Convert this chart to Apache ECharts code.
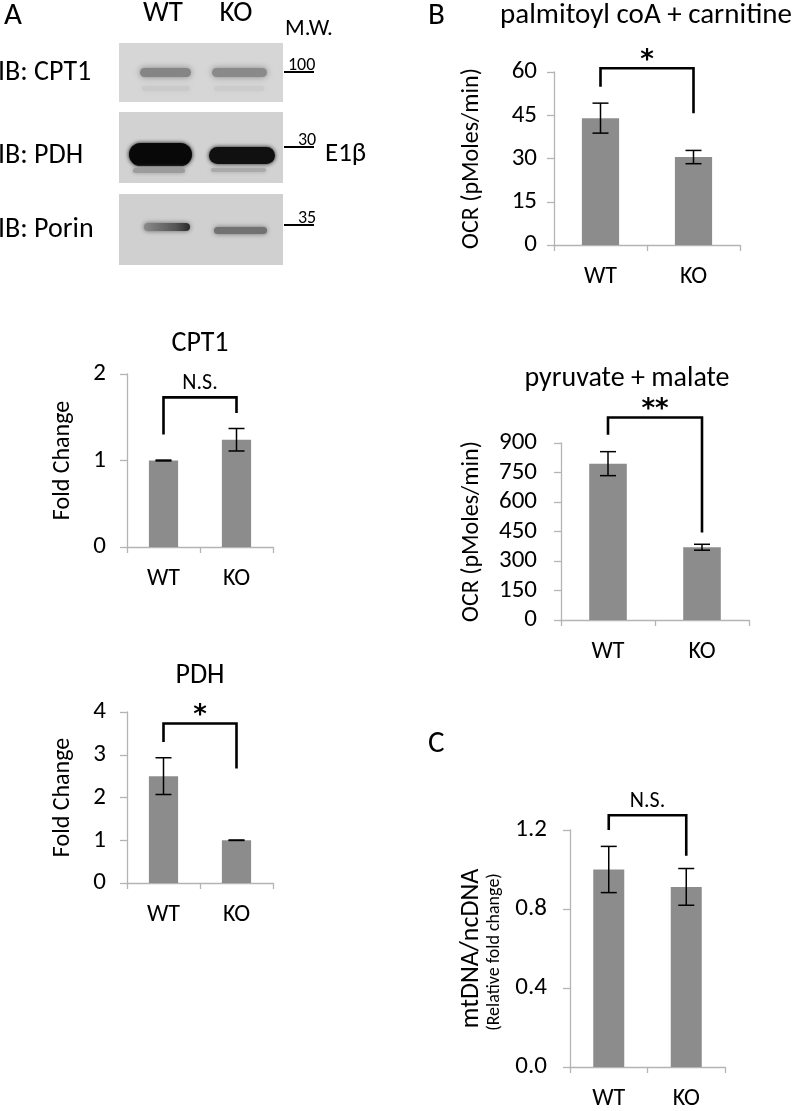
<!DOCTYPE html>
<html>
<head>
<meta charset="utf-8">
<script src="https://cdn.jsdelivr.net/npm/echarts@6/dist/echarts.min.js"></script>
<style>
  html, body { margin: 0; padding: 0; background: #fff; }
  #main { width: 796px; height: 1111px; }
</style>
</head>
<body>
<div id="main"></div>
<script>
// groups
var cats = ['WT', 'KO'];

// A: densitometry (fold change)
var cpt1Vals = [1.0, 1.24];
var cpt1Err = [0.005, 0.13];
var pdhVals = [2.5, 1.0];
var pdhErr = [0.43, 0.005];

// B: OCR (pMoles/min)
var palmVals = [44, 30.5];
var palmErr = [5.2, 2.3];
var pyrVals = [795, 370];
var pyrErr = [61, 15];

// C: mtDNA/ncDNA
var mtVals = [1.0, 0.912];
var mtErr = [0.117, 0.093];

// brackets: [top, WT leg end, KO leg end] in axis units + label
var cpt1Brk = [1.73, 1.30, 1.55], cpt1Sig = 'N.S.';
var pdhBrk = [3.73, 3.30, 2.68], pdhSig = '*';
var palmBrk = [61.3, 54.9, 45.7], palmSig = '*';
var pyrBrk = [1030, 942, 445], pyrSig = '**';
var mtBrk = [1.275, 1.2, 1.07], mtSig = 'N.S.';

// axis ranges
var yMax = [2, 4, 60, 900, 1.2];
var yStep = [1, 1, 15, 150, 0.4];

// blot labels
var blotRows = ['IB: CPT1', 'IB: PDH', 'IB: Porin'];
var mwLabels = ['100', '30', '35'];

var FONT = 'Carlito, Lato, sans-serif';
var STAR_FONT = '"DejaVu Sans", sans-serif';
var AXIS_COLOR = '#b4b4b4';
var BAR_COLOR = '#8c8c8c';

var myChart = echarts.init(document.getElementById('main'), null, { renderer: 'canvas' });

// grid rectangles (pixels)
var grids = [
    { left: 127, top: 374, width: 146, height: 173 },
    { left: 127, top: 712, width: 146, height: 171 },
    { left: 554, top: 72, width: 186, height: 173 },
    { left: 561, top: 443, width: 188, height: 177 },
    { left: 570, top: 830, width: 155, height: 240 }
];
var yNames = ['Fold Change', 'Fold Change', 'OCR (pMoles/min)', 'OCR (pMoles/min)', 'mtDNA/ncDNA'];
var nameGaps = [52, 52, 70, 77, 86];
var labelMargins = [21, 21, 17, 24, 23];

var seriesVals = [cpt1Vals, pdhVals, palmVals, pyrVals, mtVals];
var seriesErr = [cpt1Err, pdhErr, palmErr, pyrErr, mtErr];
var brackets = [cpt1Brk, pdhBrk, palmBrk, pyrBrk, mtBrk];
var sigs = [cpt1Sig, pdhSig, palmSig, pyrSig, mtSig];

function errRender(params, api) {
    var x = api.value(0), v = api.value(1), e = api.value(2);
    var t = api.coord([x, v + e]);
    var b = api.coord([x, v - e]);
    var hw = 8;
    var st = { stroke: '#000', lineWidth: 1.5 };
    return {
        type: 'group',
        children: [
            { type: 'line', shape: { x1: t[0], y1: t[1], x2: b[0], y2: b[1] }, style: st },
            { type: 'line', shape: { x1: t[0] - hw, y1: t[1], x2: t[0] + hw, y2: t[1] }, style: st },
            { type: 'line', shape: { x1: b[0] - hw, y1: b[1], x2: b[0] + hw, y2: b[1] }, style: st }
        ]
    };
}

function bracketRender(label) {
    return function (params, api) {
        var top = api.value(1), l = api.value(2), r = api.value(3);
        var p1 = api.coord([0, top]);
        var p2 = api.coord([1, top]);
        var pl = api.coord([0, l]);
        var pr = api.coord([1, r]);
        var st = { stroke: '#000', lineWidth: 2.6, lineJoin: 'miter', fill: null };
        var star = label.indexOf('*') >= 0;
        return {
            type: 'group',
            children: [
                { type: 'polyline', shape: { points: [[pl[0], pl[1]], [p1[0], p1[1]], [p2[0], p2[1]], [pr[0], pr[1]]] }, style: st },
                {
                    type: 'text',
                    x: (p1[0] + p2[0]) / 2,
                    y: star ? p1[1] + 6 : p1[1] - 3,
                    style: {
                        text: label,
                        font: star ? 'bold 26px ' + STAR_FONT : '22px ' + FONT,
                        fill: '#000',
                        textAlign: 'center', align: 'center',
                        textVerticalAlign: 'bottom', verticalAlign: 'bottom'
                    }
                }
            ]
        };
    };
}

var option = {
    animation: false,
    backgroundColor: '#fff',
    grid: [],
    xAxis: [],
    yAxis: [],
    series: [],
    graphic: []
};

grids.forEach(function (g, i) {
    option.grid.push(g);
    option.xAxis.push({
        type: 'category',
        gridIndex: i,
        data: cats,
        axisLine: { lineStyle: { color: AXIS_COLOR, width: 1.3 } },
        axisTick: { show: true, length: 6, lineStyle: { color: AXIS_COLOR, width: 1.3 } },
        axisLabel: { color: '#000', fontSize: 24, fontFamily: FONT, margin: 20 },
        splitLine: { show: false }
    });
    option.yAxis.push({
        type: 'value',
        gridIndex: i,
        min: 0,
        max: yMax[i],
        interval: yStep[i],
        splitLine: { show: false },
        axisLine: { show: true, lineStyle: { color: AXIS_COLOR, width: 1.3 } },
        axisTick: { show: true, length: 7, lineStyle: { color: AXIS_COLOR, width: 1.3 } },
        axisLabel: {
            color: '#000', fontSize: 25, fontFamily: FONT, margin: labelMargins[i],
            formatter: i === 4 ? function (v) { return v.toFixed(1); } : null
        },
        name: yNames[i],
        nameLocation: 'middle',
        nameRotate: 90,
        nameGap: nameGaps[i],
        nameTextStyle: { color: '#000', fontSize: i === 4 ? 26 : 24, fontFamily: FONT }
    });
    option.series.push({
        type: 'bar',
        xAxisIndex: i,
        yAxisIndex: i,
        data: seriesVals[i],
        barWidth: '40%',
        itemStyle: { color: BAR_COLOR },
        silent: true
    });
    option.series.push({
        type: 'custom',
        xAxisIndex: i,
        yAxisIndex: i,
        renderItem: errRender,
        encode: { x: 0, y: 1 },
        data: seriesVals[i].map(function (v, k) { return [k, v, seriesErr[i][k]]; }),
        z: 5,
        silent: true
    });
    option.series.push({
        type: 'custom',
        xAxisIndex: i,
        yAxisIndex: i,
        renderItem: bracketRender(sigs[i]),
        encode: { x: 0, y: 1 },
        data: [[0, brackets[i][0], brackets[i][1], brackets[i][2]]],
        clip: false,
        z: 6,
        silent: true
    });
});

function txt(x, y, s, size, align, valign) {
    return {
        type: 'text', x: x, y: y, silent: true,
        style: {
            text: s, font: size + 'px ' + FONT, fill: '#000',
            textAlign: align || 'left', align: align || 'left',
            textVerticalAlign: valign || 'middle', verticalAlign: valign || 'middle'
        }
    };
}

// panel letters and titles
option.graphic.push(txt(4, 16, 'A', 31));
option.graphic.push(txt(428, 16, 'B', 31));
option.graphic.push(txt(428, 744, 'C', 31));
option.graphic.push(txt(646, 16, 'palmitoyl coA + carnitine', 29, 'center'));
option.graphic.push(txt(627, 379, 'pyruvate + malate', 28, 'center'));
option.graphic.push(txt(200, 344, 'CPT1', 28, 'center'));
option.graphic.push(txt(200, 676, 'PDH', 28, 'center'));

// second line of the C y-axis title
var sub = txt(494, 952, '(Relative fold change)', 18, 'center');
sub.rotation = Math.PI / 2;
option.graphic.push(sub);

// western blot panel (decorative reproduction)
var blotTops = [43, 112, 194];
var blotH = [59, 71, 71];
var blotBg = ['#d6d6d6', '#d2d2d2', '#d0d0d0'];
var bandCy = [72, 155, 229];
var mwY = [72, 147, 225];
blotTops.forEach(function (t, i) {
    option.graphic.push({
        type: 'rect', silent: true,
        shape: { x: 119, y: t, width: 164, height: blotH[i] },
        style: { fill: blotBg[i] }
    });
    option.graphic.push(txt(-2, bandCy[i] + 1, blotRows[i], 28));
    option.graphic.push({
        type: 'line', silent: true,
        shape: { x1: 284, y1: mwY[i], x2: 314, y2: mwY[i] },
        style: { stroke: '#000', lineWidth: 2 }
    });
    option.graphic.push(txt(i === 0 ? 288 : 298, mwY[i] + 2, mwLabels[i], 18, 'left', 'bottom'));
});

function band(x, y, w, h, color, blur) {
    return {
        type: 'rect', silent: true,
        shape: { x: x, y: y, width: w, height: h, r: h / 2 },
        style: { fill: color, shadowBlur: blur, shadowColor: color }
    };
}
// CPT1
option.graphic.push(band(140, 68, 51, 9, '#858585', 6));
option.graphic.push(band(212, 68, 55, 9, '#8a8a8a', 6));
option.graphic.push(band(142, 86, 48, 5, '#cacaca', 5));
option.graphic.push(band(214, 86, 50, 5, '#cccccc', 5));
// PDH
option.graphic.push(band(129, 143, 63, 23, '#080808', 4));
option.graphic.push(band(209, 147, 66, 17, '#101010', 4));
option.graphic.push(band(133, 168, 52, 5, '#9c9c9c', 4));
option.graphic.push(band(211, 168, 55, 4, '#aaaaaa', 4));
// Porin
option.graphic.push({
    type: 'rect', silent: true,
    shape: { x: 144, y: 223, width: 46, height: 8, r: 4 },
    style: {
        fill: new echarts.graphic.LinearGradient(0, 0, 1, 0, [
            { offset: 0, color: '#8a8a8a' }, { offset: 0.7, color: '#555' }, { offset: 1, color: '#2a2a2a' }
        ]),
        shadowBlur: 5, shadowColor: '#666'
    }
});
option.graphic.push(band(214, 227, 53, 7, '#727272', 5));

option.graphic.push(txt(163, 14, 'WT', 29, 'center'));
option.graphic.push(txt(236, 14, 'KO', 29, 'center'));
option.graphic.push(txt(285, 29, 'M.W.', 23));
option.graphic.push(txt(325, 154, 'E1β', 27));

myChart.setOption(option);
</script>
</body>
</html>
